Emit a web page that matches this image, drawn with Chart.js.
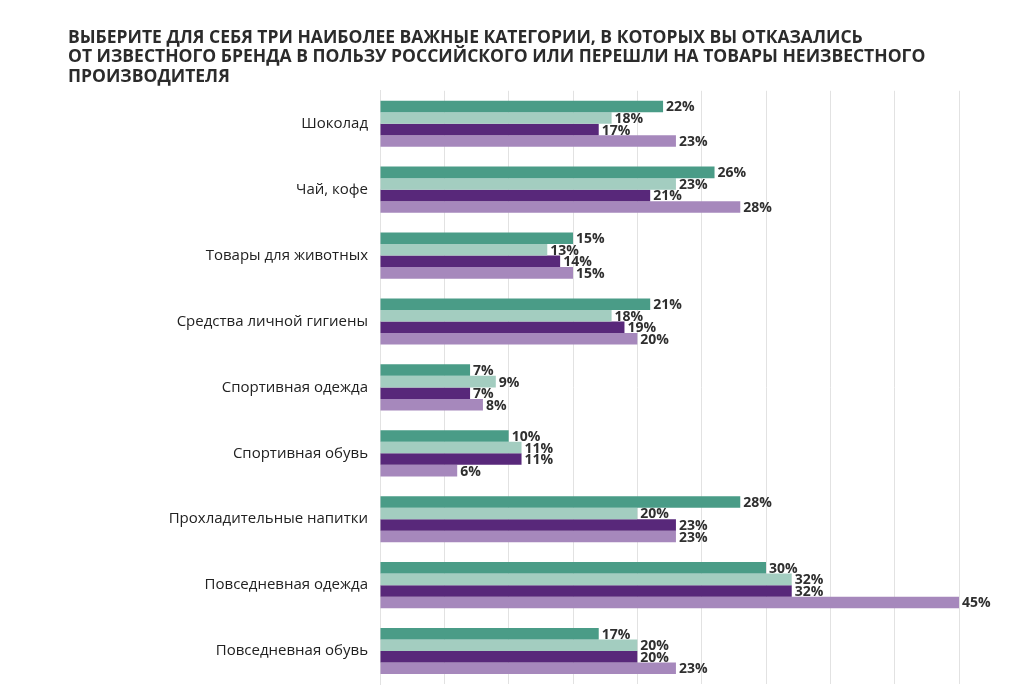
<!DOCTYPE html>
<html>
<head>
<meta charset="utf-8">
<script src="https://cdn.jsdelivr.net/npm/chart.js@4"></script>
<style>
  html, body { margin: 0; padding: 0; background: #fff; }
  #wrap { width: 1035px; height: 689px; }
</style>
</head>
<body>
<div id="wrap"><canvas id="chart"></canvas></div>
<script>
"use strict";

// data
const categories = [
  'Шоколад',
  'Чай, кофе',
  'Товары для животных',
  'Средства личной гигиены',
  'Спортивная одежда',
  'Спортивная обувь',
  'Прохладительные напитки',
  'Повседневная одежда',
  'Повседневная обувь'
];
const series1 = [22, 26, 15, 21, 7, 10, 28, 30, 17];
const series2 = [18, 23, 13, 18, 9, 11, 20, 32, 20];
const series3 = [17, 21, 14, 19, 7, 11, 23, 32, 20];
const series4 = [23, 28, 15, 20, 8, 6, 23, 45, 23];
const titleLines = [
  'ВЫБЕРИТЕ ДЛЯ СЕБЯ ТРИ НАИБОЛЕЕ ВАЖНЫЕ КАТЕГОРИИ, В КОТОРЫХ ВЫ ОТКАЗАЛИСЬ',
  'ОТ ИЗВЕСТНОГО БРЕНДА В ПОЛЬЗУ РОССИЙСКОГО ИЛИ ПЕРЕШЛИ НА ТОВАРЫ НЕИЗВЕСТНОГО',
  'ПРОИЗВОДИТЕЛЯ'
];

const colors = ['#4a9c87', '#a3cdc0', '#58287a', '#a688bc'];

// value labels at the bar ends
const valueLabels = {
  id: 'valueLabels',
  afterDatasetsDraw(chart) {
    const ctx = chart.ctx;
    ctx.save();
    ctx.font = 'bold 14px "Open Sans", sans-serif';
    ctx.fillStyle = '#2f2f2f';
    ctx.textAlign = 'left';
    ctx.textBaseline = 'middle';
    chart.data.datasets.forEach((ds, i) => {
      chart.getDatasetMeta(i).data.forEach((bar, j) => {
        ctx.fillText(ds.data[j] + '%', bar.x + 3, bar.y + 1);
      });
    });
    ctx.restore();
  }
};

const mkSet = (data, i) => ({
  label: 'Серия ' + (i + 1),
  data: data,
  backgroundColor: colors[i],
  borderWidth: 0,
  categoryPercentage: 0.7,
  barPercentage: 1.0
});

const config = {
  type: 'bar',
  data: {
    labels: categories,
    datasets: [series1, series2, series3, series4].map(mkSet)
  },
  options: {
    indexAxis: 'y',
    responsive: true,
    maintainAspectRatio: false,
    animation: false,
    layout: {
      padding: { left: 68, right: 76, top: 28, bottom: 5 }
    },
    plugins: {
      legend: { display: false },
      tooltip: { enabled: false },
      title: {
        display: true,
        text: titleLines,
        align: 'start',
        color: '#2b2b2b',
        font: { family: '"Open Sans", sans-serif', size: 17.5, weight: 'bold', lineHeight: 1.12 },
        padding: { top: 0, bottom: 4 }
      }
    },
    scales: {
      x: {
        min: 0,
        max: 45,
        afterFit(scale) { scale.height = 0; },
        ticks: { display: false, stepSize: 5 },
        grid: { color: '#e2e2e2', drawTicks: false },
        border: { display: false }
      },
      y: {
        afterFit(scale) {
          scale.width = 312;
          scale.paddingTop = 0;
          scale.paddingBottom = 0;
        },
        ticks: {
          color: '#222',
          padding: 12,
          font: { family: '"Open Sans", sans-serif', size: 15 }
        },
        grid: { display: false, drawTicks: false },
        border: { color: '#e2e2e2' }
      }
    }
  },
  plugins: [valueLabels]
};

const chart = new Chart(document.getElementById('chart'), config);
</script>
</body>
</html>
